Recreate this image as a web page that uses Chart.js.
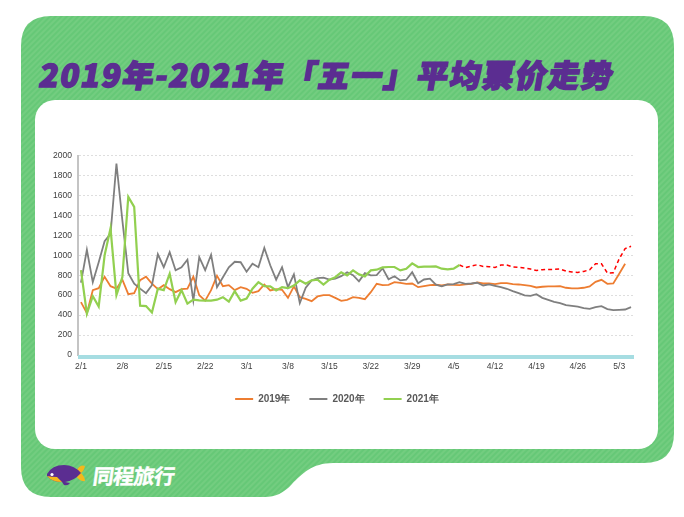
<!DOCTYPE html>
<html lang="zh">
<head>
<meta charset="utf-8">
<title>2019年-2021年「五一」平均票价走势</title>
<script src="https://cdn.jsdelivr.net/npm/chart.js@4"></script>
<style>
	html, body { margin: 0; padding: 0; background: #fff; }
	#stage { position: relative; width: 684px; height: 517px; overflow: hidden; }
	#stage svg, #stage canvas { position: absolute; left: 0; top: 0; }
</style>
</head>
<body>
<div id="stage">
	<svg width="684" height="517" viewBox="0 0 684 517">
		<defs>
			<pattern id="hatch" width="4" height="4" patternUnits="userSpaceOnUse" patternTransform="rotate(-45)">
				<rect width="4" height="4" fill="#66c877"/>
				<rect width="4" height="2" fill="#73cd80"/>
			</pattern>
		</defs>
		<path fill="url(#hatch)" d="M51 16 H644 Q674 16 674 46 V433 Q674 463 644 463 H333 C312 463 302 474 292 484 C284 493 275 497 265 497 H51 Q21 497 21 467 V46 Q21 16 51 16 Z"/>
		<rect x="35" y="100" width="623" height="349" rx="20" fill="#fff"/>
		<g transform="translate(39 87) skewX(-10)">
			<text x="-1" y="0" textLength="573" lengthAdjust="spacing" fill="#5b2d91" stroke="#5b2d91" stroke-width="1.6"
				font-family="'Noto Sans CJK SC'" font-weight="900" font-size="31">2019年-2021年「五一」平均票价走势</text>
		</g>
		<!-- logo -->
		<path fill="#f5b81c" d="M77 470 Q80 464 85 466 Q84 471 81 473 Q85 477 85 481 Q80 482 76 476 Z"/>
		<path fill="#5b2d91" d="M47 474 Q52 465 64 465 Q74 465 81 473 Q74 481 65 482 L70 483 Q68 486 64 485 L62 482 Q52 482 47 476 Z"/>
		<path fill="#f5b81c" d="M47 476 Q52 477 57 477 L62 482 Q52 482 47 476 Z"/>
		<circle cx="52" cy="474.5" r="1.6" fill="#fff"/>
		<g transform="translate(90 484) skewX(-8)">
			<text x="2" y="0" textLength="82" lengthAdjust="spacing" fill="#fff" stroke="#fff" stroke-width=".4"
				font-family="'Noto Sans CJK SC'" font-weight="700" font-size="21">同程旅行</text>
		</g>
	</svg>
	<canvas id="priceChart" width="684" height="517"></canvas>
</div>
<script>
// ===== DATA =====
const categories = [
	'2/1','2/2','2/3','2/4','2/5','2/6','2/7','2/8','2/9','2/10','2/11','2/12','2/13','2/14',
	'2/15','2/16','2/17','2/18','2/19','2/20','2/21','2/22','2/23','2/24','2/25','2/26','2/27','2/28',
	'3/1','3/2','3/3','3/4','3/5','3/6','3/7','3/8','3/9','3/10','3/11','3/12','3/13','3/14',
	'3/15','3/16','3/17','3/18','3/19','3/20','3/21','3/22','3/23','3/24','3/25','3/26','3/27','3/28',
	'3/29','3/30','3/31','4/1','4/2','4/3','4/4','4/5','4/6','4/7','4/8','4/9','4/10','4/11',
	'4/12','4/13','4/14','4/15','4/16','4/17','4/18','4/19','4/20','4/21','4/22','4/23','4/24','4/25',
	'4/26','4/27','4/28','4/29','4/30','5/1','5/2','5/3','5/4','5/5'
];
const seriesNames = ['2019年', '2020年', '2021年'];

const values2019 = [
	530,420,650,670,785,690,665,755,610,620,750,785,715,660,
	700,660,630,660,665,785,600,545,650,795,690,700,650,680,
	663,623,640,707,647,660,654,573,688,580,563,540,587,600,
	600,573,543,553,580,573,560,630,714,700,704,730,724,714,
	717,680,690,700,704,697,707,704,700,707,714,727,717,717,
	710,720,720,710,707,700,694,677,684,687,687,690,674,667,
	667,674,687,734,754,714,717,815,915
];
const values2020 = [
	725,1055,730,930,1140,1215,1920,1350,820,715,665,620,700,1010,
	880,1030,850,880,955,545,980,850,1005,680,780,880,935,930,
	835,915,880,1073,900,755,880,680,808,520,675,748,770,775,
	755,765,790,830,800,738,820,798,800,870,760,790,748,755,
	830,720,757,765,705,688,707,710,731,714,717,724,697,707,
	694,680,664,640,620,597,593,610,573,553,533,520,500,493,
	486,470,463,480,490,460,450,453,456,480
];
const values2021 = [
	850,415,590,485,1000,1270,600,780,1585,1485,495,490,425,665,
	650,815,530,650,515,555,548,545,545,555,580,535,640,545,
	565,665,730,690,688,648,680,670,697,748,714,748,755,705,
	755,780,830,798,848,808,788,848,855,878,882,882,848,865,
	918,882,885,885,888,865,858,865,902
];
const valuesForecast = [
	null,null,null,null,null,null,null,null,null,null,null,null,null,null,
	null,null,null,null,null,null,null,null,null,null,null,null,null,null,
	null,null,null,null,null,null,null,null,null,null,null,null,null,null,
	null,null,null,null,null,null,null,null,null,null,null,null,null,null,
	null,null,null,null,null,null,null,null,
	902,875,892,905,888,885,878,902,902,882,878,872,862,848,
	855,858,858,862,842,832,828,838,855,915,915,822,825,965,1066,1090
];

// ===== CHART =====
const bandPlugin = {
	id: 'axisBand',
	afterDatasetsDraw(chart) {
		const { ctx, chartArea } = chart;
		ctx.save();
		ctx.fillStyle = '#a6dde2';
		ctx.fillRect(chartArea.left, chartArea.bottom, chartArea.width, 4);
		ctx.restore();
	}
};

function lineSet(label, data, color, width, order, dash) {
	return {
		label: label,
		data: data,
		borderColor: color,
		backgroundColor: color,
		borderWidth: width,
		borderDash: dash || [],
		pointRadius: 0,
		tension: 0,
		order: order
	};
}

new Chart(document.getElementById('priceChart').getContext('2d'), {
	type: 'line',
	data: {
		labels: categories,
		datasets: [
			lineSet(seriesNames[0], values2019, '#ed7d31', 1.8, 3),
			lineSet(seriesNames[1], values2020, '#7f7f7f', 1.8, 2),
			lineSet(seriesNames[2], values2021, '#92d050', 2.2, 1),
			lineSet('预测', valuesForecast, '#ff0000', 1.5, 4, [4, 3])
		]
	},
	options: {
		responsive: false,
		animation: false,
		layout: { padding: { left: 40, right: 50, top: 155.5, bottom: 103 } },
		scales: {
			x: {
				offset: true,
				afterFit(scale) { scale.height = 20; },
				grid: { display: false, drawTicks: false },
				border: { display: false },
				ticks: {
					autoSkip: false,
					maxRotation: 0,
					padding: 7,
					color: '#404040',
					font: { family: 'Liberation Sans', size: 8.5 },
					callback(value, index) { return index % 7 === 0 ? categories[index] : ''; }
				}
			},
			y: {
				min: 0,
				max: 2000,
				afterFit(scale) { scale.width = 38; },
				grid: { color: '#dedede', drawTicks: false },
				border: { color: '#c4c4c4', width: 2, dash: [2, 2] },
				ticks: {
					stepSize: 200,
					padding: 6,
					color: '#404040',
					font: { family: 'Liberation Sans', size: 8.5 },
					callback(value) { return String(value); }
				}
			}
		},
		plugins: {
			tooltip: { enabled: false },
			legend: {
				position: 'bottom',
				labels: {
					boxWidth: 18,
					boxHeight: 2,
					padding: 19,
					color: '#595959',
					font: { family: 'Liberation Sans', size: 10, weight: 'bold' },
					sort: (a, b) => a.datasetIndex - b.datasetIndex,
					filter: item => item.datasetIndex < 3,
					generateLabels(chart) {
						return Chart.defaults.plugins.legend.labels.generateLabels(chart)
							.map(item => Object.assign(item, { lineWidth: 0 }));
					}
				}
			}
		}
	},
	plugins: [bandPlugin]
});
</script>
</body>
</html>
